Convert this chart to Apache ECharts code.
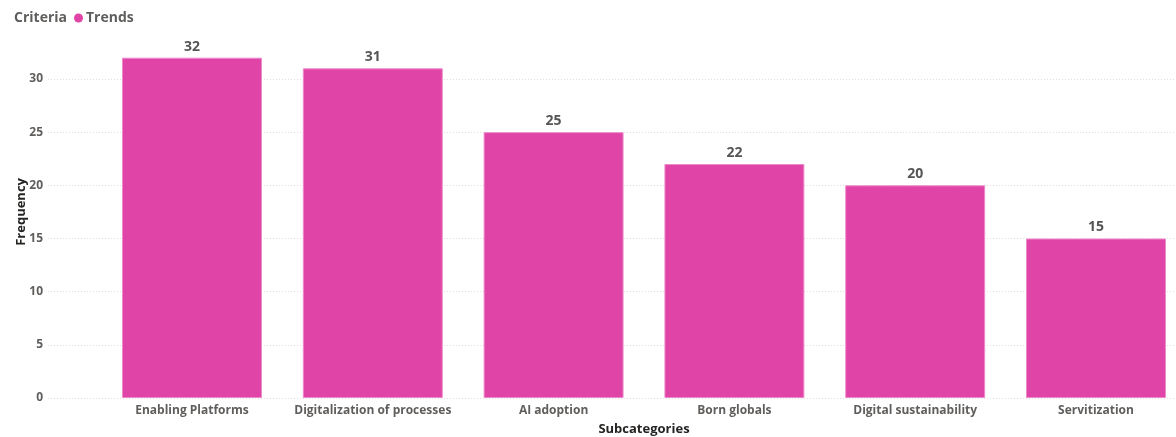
<!DOCTYPE html>
<html><head><meta charset="utf-8">
<script src="https://cdn.jsdelivr.net/npm/echarts@6/dist/echarts.min.js"></script>
<style>html,body{margin:0;padding:0;background:#fff;overflow:hidden}#c{width:1176px;height:437px}</style>
</head><body><div id="c"></div>
<script>
const categories = ["Enabling Platforms","Digitalization of processes","AI adoption","Born globals","Digital sustainability","Servitization"];
const frequency = [32,31,25,22,20,15];
const seriesName = "Trends";
const legendTitle = "Criteria";
const yTicks = [0,5,10,15,20,25,30];

const FONT = '"Open Sans", "Noto Sans", sans-serif';
const chart = echarts.init(document.getElementById('c'), null, {renderer:'canvas'});
chart.setOption({
  animation:false,
  title:{text:legendTitle,left:9,top:6,textStyle:{fontFamily:FONT,fontSize:14,fontWeight:'bold',color:'#605E5C'}},
  legend:{data:[seriesName],left:69,top:6,icon:'circle',itemWidth:9,itemHeight:9,itemGap:4,
    itemStyle:{borderWidth:0},
    textStyle:{fontFamily:FONT,fontSize:14,fontWeight:'bold',color:'#605E5C',padding:[0,0,0,-2]}},
  grid:[
    {left:48,right:0,top:79,bottom:39,outerBoundsMode:'none',containLabel:false},
    {left:101.6,right:-10.4,top:25.8,bottom:39,outerBoundsMode:'none',containLabel:false}
  ],
  xAxis:[
    {gridIndex:0,type:'value',show:false,min:0,max:1},
    {gridIndex:1,type:'category',data:categories,axisLine:{show:false},axisTick:{show:false},
     axisLabel:{fontFamily:FONT,fontSize:12,fontWeight:'bold',color:'#605E5C',margin:7,interval:0},
     name:'Subcategories',nameLocation:'middle',nameGap:25,
     nameTextStyle:{fontFamily:FONT,fontSize:13,fontWeight:'bold',color:'#252423'}}
  ],
  yAxis:[
    {gridIndex:0,type:'value',min:0,max:yTicks[yTicks.length-1],interval:5,
     axisLine:{show:false},axisTick:{show:false},
     axisLabel:{fontFamily:FONT,fontSize:12,fontWeight:'bold',color:'#605E5C',margin:5},
     splitLine:{lineStyle:{color:'#E1DFDD',type:[1,2],width:1}}},
    {gridIndex:1,type:'value',min:0,max:35,interval:5,show:true,
     axisLine:{show:false},axisTick:{show:false},axisLabel:{show:false},splitLine:{show:false},
     name:'Frequency',nameLocation:'middle',nameGap:74,nameRotate:90,
     nameTextStyle:{fontFamily:FONT,fontSize:13,fontWeight:'bold',color:'#252423'}}
  ],
  series:[{
    name:seriesName,type:'bar',xAxisIndex:1,yAxisIndex:1,data:frequency,
    barCategoryGap:'22.6%',
    itemStyle:{color:'#E044A7',borderColor:'#EE8ACB',borderWidth:1},
    label:{show:true,position:'top',distance:4,fontFamily:FONT,fontSize:14,fontWeight:'bold',color:'#555555'}
  }]
});
</script></body></html>
